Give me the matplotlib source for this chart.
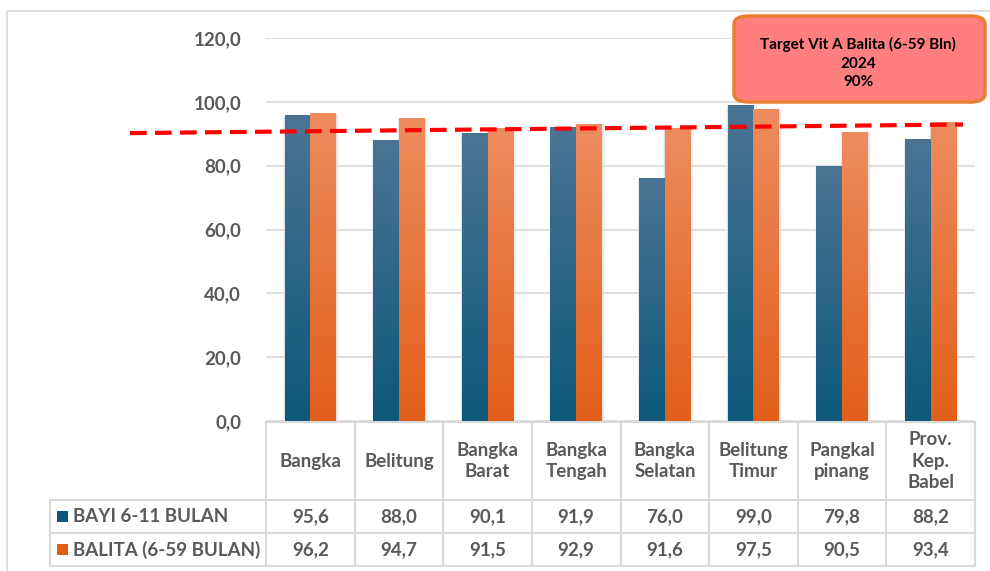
import numpy as np
import matplotlib.pyplot as plt
from matplotlib.colors import LinearSegmentedColormap
from matplotlib.patches import Rectangle, FancyBboxPatch
from matplotlib.lines import Line2D

# --------------------------
# Data
# --------------------------
wilayah = ["Bangka", "Belitung", "Bangka\nBarat", "Bangka\nTengah", "Bangka\nSelatan",
           "Belitung\nTimur", "Pangkal\npinang", "Prov.\nKep.\nBabel"]
bayi = [95.6, 88.0, 90.1, 91.9, 76.0, 99.0, 79.8, 88.2]
balita = [96.2, 94.7, 91.5, 92.9, 91.6, 97.5, 90.5, 93.4]
seri = ["BAYI 6-11 BULAN", "BALITA (6-59 BULAN)"]
target_garis = [90.2, 92.9]   # garis putus-putus merah (awal, akhir)
target_teks = "Target Vit A Balita (6-59 Bln)\n2024\n90%"

yticks = [0, 20, 40, 60, 80, 100, 120]

# --------------------------
# Style
# --------------------------
plt.rcParams['font.family'] = ['Lato', 'DejaVu Sans']
abu = "#595959"
garis = "#D9D9D9"
biru_atas, biru_bawah = "#4B7494", "#0C587B"
oren_atas, oren_bawah = "#EE8C5E", "#E15F1A"
fs = 13.5

W, H = 990, 571
fig = plt.figure(figsize=(W / 100, H / 100), dpi=100)

def fx(px):
    return px / W

def fy(py):
    return 1 - py / H

# outer chart border
fig.patches.append(Rectangle((fx(7), fy(575)), fx(1000), fy(11) - fy(575),
                             transform=fig.transFigure, fill=False,
                             edgecolor=garis, lw=1.2))

# --------------------------
# Main axes
# --------------------------
ax = fig.add_axes([fx(266), fy(421), fx(975 - 266), fy(38) - fy(421)])
x = np.arange(len(wilayah))
lebar = 0.29

b1 = ax.bar(x - lebar / 2, bayi, lebar, color=biru_bawah, zorder=2)
b2 = ax.bar(x + lebar / 2, balita, lebar, color=oren_bawah, zorder=2)

grad = np.linspace(0, 1, 256).reshape(-1, 1)
for bars, c_bawah, c_atas in [(b1, biru_bawah, biru_atas), (b2, oren_bawah, oren_atas)]:
    cmap = LinearSegmentedColormap.from_list("g", [c_bawah, c_atas])
    for b in bars:
        x0, w, h = b.get_x(), b.get_width(), b.get_height()
        # soft shadow
        for k, a in [(0.05, 0.03), (0.03, 0.04), (0.015, 0.05)]:
            ax.add_patch(Rectangle((x0 - k * 0.3, -0.5), w + k, h + 0.6,
                                   color="k", alpha=a, lw=0, zorder=1.5))
        ax.imshow(grad, extent=(x0, x0 + w, 0, h), origin="lower", cmap=cmap,
                  aspect="auto", zorder=3, interpolation="bilinear")

ax.set_xlim(-0.5, len(wilayah) - 0.5)
ax.set_ylim(0, 120)
ax.set_yticks(yticks)
ax.set_yticklabels([f"{v:.1f}".replace(".", ",") for v in yticks],
                   fontsize=fs, fontweight="bold", color=abu)
ax.tick_params(axis="y", length=0, pad=18)
ax.set_xticks([])
ax.grid(axis="y", color=garis, lw=1.2, zorder=0)
for s in ax.spines.values():
    s.set_visible(False)

# target dashed line
x_kiri = (130 - 266) / 88.625 - 0.5
x_kanan = (963 - 266) / 88.625 - 0.5
ax.add_line(Line2D([x_kiri, x_kanan], target_garis, color="#FF0000", lw=3,
                   linestyle=(0, (4, 2)), clip_on=False, zorder=5))

# target callout
fig.patches.append(FancyBboxPatch((fx(734), fy(102)), fx(985 - 734), fy(16) - fy(102),
                                  boxstyle="round,pad=0,rounding_size=0.015",
                                  transform=fig.transFigure, facecolor="#FF7F7F",
                                  edgecolor="#ED7D31", lw=2.5))
fig.text(fx(858), fy(63), target_teks, ha="center", va="center", fontsize=11,
         fontweight="bold", color="black", linespacing=1.45)

# --------------------------
# Data table
# --------------------------
tx0 = -0.5 - (266 - 50) / 88.625
tax = fig.add_axes([fx(50), fy(566), fx(975 - 50), fy(422) - fy(566)])
tax.set_xlim(tx0, len(wilayah) - 0.5)
tax.set_ylim(144, 0)
tax.axis("off")

lc = dict(color=garis, lw=1.5, clip_on=False)
for i in range(len(wilayah) + 1):
    tax.plot([i - 0.5, i - 0.5], [0, 144], **lc)
tax.plot([tx0, tx0], [78, 144], **lc)
tax.plot([-0.5, len(wilayah) - 0.5], [0, 0], **lc)
for yy in [78, 111, 144]:
    tax.plot([tx0, len(wilayah) - 0.5], [yy, yy], **lc)

tk = dict(ha="center", va="center", fontsize=fs, fontweight="bold", color=abu)
for i, nama in enumerate(wilayah):
    tax.text(i, 39, nama, linespacing=1.3, **tk)
    tax.text(i, 94.5, f"{bayi[i]:.1f}".replace(".", ","), **tk)
    tax.text(i, 127.5, f"{balita[i]:.1f}".replace(".", ","), **tk)

for j, (nama, warna) in enumerate(zip(seri, [biru_bawah, oren_bawah])):
    yc = 94.5 + 33 * j
    tax.add_patch(Rectangle((tx0 + 7 / 88.625, yc - 5.5), 11 / 88.625, 11,
                            color=warna, lw=0))
    tax.text(tx0 + 23 / 88.625, yc, nama, ha="left", va="center", fontsize=fs,
             fontweight="bold", color=abu)

fig.savefig("out.png", dpi=100)
